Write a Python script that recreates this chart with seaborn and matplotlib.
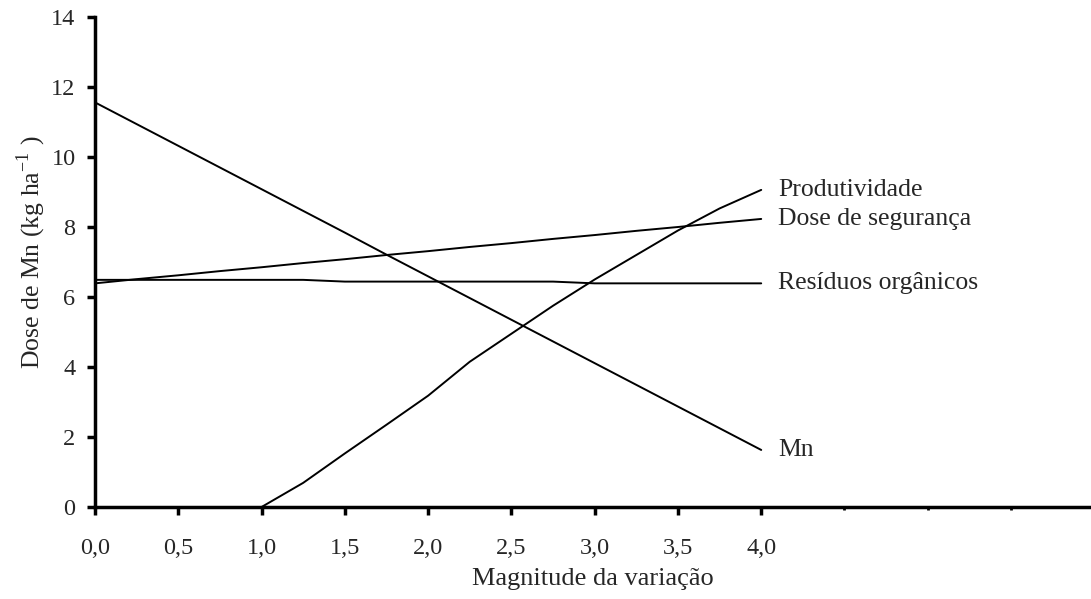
import numpy as np
import pandas as pd
import matplotlib
matplotlib.use("Agg")
import matplotlib.pyplot as plt
import seaborn as sns

# data
magnitude = [0.0, 0.25, 0.5, 0.75, 1.0, 1.25, 1.5, 1.75, 2.0,
             2.25, 2.5, 2.75, 3.0, 3.25, 3.5, 3.75, 4.0]

mn = [11.56, 10.94, 10.32, 9.70, 9.08, 8.46, 7.84, 7.21, 6.59,
      5.97, 5.35, 4.73, 4.11, 3.49, 2.87, 2.25, 1.63]

dose_seguranca = [6.39, 6.51, 6.62, 6.74, 6.85, 6.97, 7.08, 7.20, 7.31,
                  7.43, 7.54, 7.66, 7.77, 7.89, 8.00, 8.12, 8.23]

residuos = [6.49, 6.49, 6.49, 6.49, 6.49, 6.49, 6.44, 6.44, 6.44,
            6.44, 6.44, 6.44, 6.39, 6.39, 6.39, 6.39, 6.39]

produtividade = [np.nan, np.nan, np.nan, np.nan, 0.0, 0.69, 1.53, 2.35, 3.18,
                 4.15, 4.95, 5.75, 6.50, 7.20, 7.90, 8.53, 9.06]

series_names = ["Produtividade", "Dose de segurança", "Resíduos orgânicos", "Mn"]
series_values = [produtividade, dose_seguranca, residuos, mn]

x_ticks = [0.0, 0.5, 1.0, 1.5, 2.0, 2.5, 3.0, 3.5, 4.0]
x_tick_labels = ["0,0", "0,5", "1,0", "1,5", "2,0", "2,5", "3,0", "3,5", "4,0"]
x_minor_ticks = [4.5, 5.0, 5.5]
y_ticks = [0, 2, 4, 6, 8, 10, 12, 14]

# =========================================================
# STYLE
# =========================================================

sns.set_style("ticks")
plt.rcParams["font.family"] = ["Liberation Serif", "DejaVu Serif"]
plt.rcParams["mathtext.fontset"] = "custom"
plt.rcParams["mathtext.rm"] = "Liberation Serif"

fig = plt.figure(figsize=(10.91, 5.99), dpi=100)
ax = fig.add_axes([95 / 1091, 92 / 599, 996 / 1091, 490 / 599])

# =========================================================
# LINES
# =========================================================

for name, values in zip(series_names, series_values):
    df = pd.DataFrame({"x": magnitude, "y": values}).dropna()
    sns.lineplot(data=df, x="x", y="y", color="black", linewidth=1.4, ax=ax)
    ax.text(4.1, df["y"].iloc[-1], name, va="center", ha="left", fontsize=18.5)

# =========================================================
# AXES
# =========================================================

ax.set_xlim(0, 5.98)
ax.set_ylim(0, 14)

ax.set_xticks(x_ticks)
ax.set_xticklabels(x_tick_labels, fontsize=17.5)
ax.set_xticks(x_minor_ticks, minor=True)
ax.set_yticks(y_ticks)
ax.set_yticklabels([str(v) for v in y_ticks], fontsize=17.5)

ax.tick_params(axis="x", which="major", direction="out", length=6, width=2.5,
               color="black", pad=16)
ax.tick_params(axis="y", which="major", direction="out", length=6, width=2.5,
               color="black", pad=8)
ax.tick_params(axis="x", which="minor", direction="out", length=2, width=2, color="black")

for side in ["top", "right"]:
    ax.spines[side].set_visible(False)
for side in ["left", "bottom"]:
    ax.spines[side].set_linewidth(2.5)
    ax.spines[side].set_color("black")

ax.set_xlabel("Magnitude da variação", fontsize=19)
ax.set_ylabel("Dose de Mn (kg ha$^{\\mathregular{-1}}$ )", fontsize=18.5)
ax.xaxis.set_label_coords(0.5, -0.124)
ax.yaxis.set_label_coords(-0.047, 0.52)

fig.savefig("out.png", dpi=100)
